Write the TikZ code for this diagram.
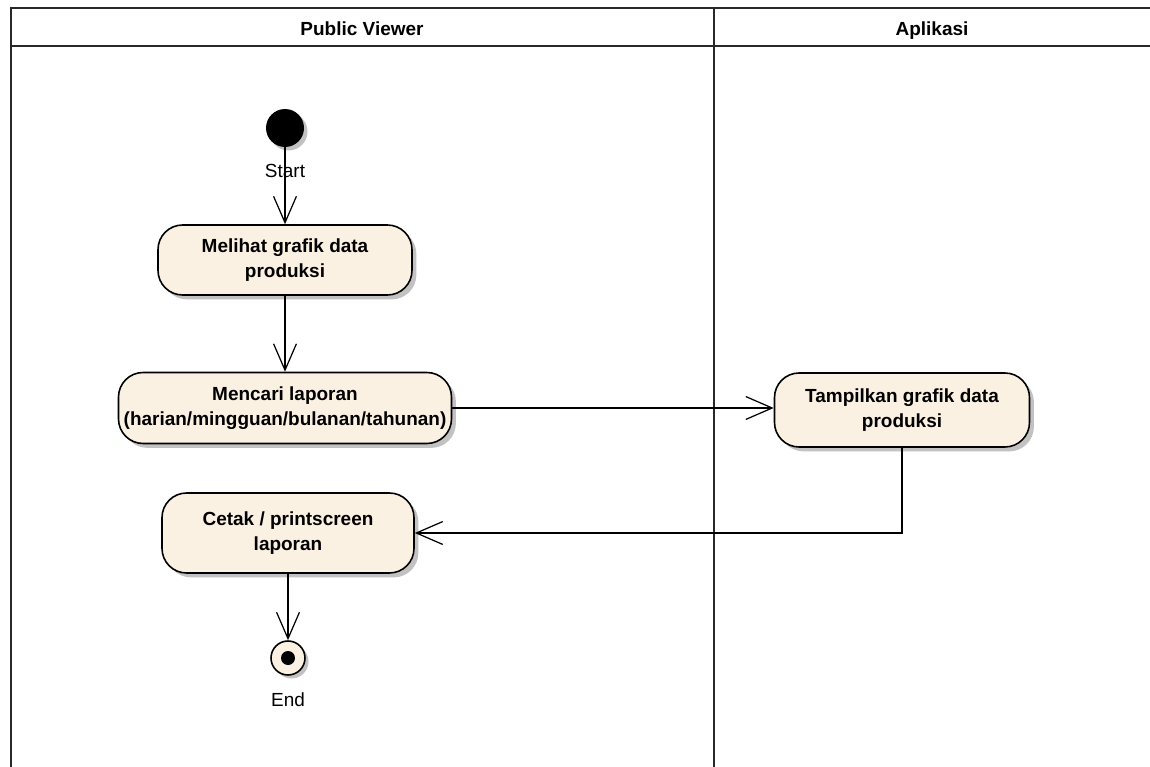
\documentclass[tikz,border=0pt]{standalone}
\usepackage{fontspec}
\setmainfont{Liberation Sans}
\usetikzlibrary{arrows.meta, shadows}

\definecolor{actfill}{RGB}{251,241,226}
\definecolor{lanegray}{RGB}{40,40,40}

\begin{document}
\begin{tikzpicture}[x=0.02cm, y=-0.02cm,
    font=\fontsize{10.8}{14}\selectfont,
    lane/.style={draw=lanegray, line width=1.3pt},
    lanehead/.style={anchor=base, font=\fontsize{10.8}{14}\selectfont\bfseries},
    act/.style={draw, line width=0.9pt, fill=actfill, rounded corners=14pt,
        align=center, inner sep=0pt, font=\fontsize{10.8}{14}\selectfont\bfseries,
        drop shadow={shadow xshift=2.5pt, shadow yshift=-2.5pt, fill=black!40, opacity=0.6}},
    flow/.style={line width=0.7pt, -{Straight Barb[length=15pt, width=13pt, line width=0.7pt]}}]
    \useasboundingbox (0,0) rectangle (1150,767);

    % Swimlanes
    \draw[lane] (1150,8) -- (11,8) -- (11,767);
    \draw[lane] (11,46) -- (1150,46);
    \draw[lane] (714,8) -- (714,767);
    \node[lanehead] (laneviewer) at (362,36) {Public Viewer};
    \node[lanehead] (laneapp) at (932,36) {Aplikasi};

    % Start
    \node[circle, fill=black, minimum size=38*0.02cm, inner sep=0pt,
        drop shadow={shadow xshift=2pt, shadow yshift=-2pt, fill=black!40, opacity=0.6}] (start) at (285,128) {};
    \node (startlbl) at (285,171) {Start};

    % Activities
    \node[act, minimum width=254*0.02cm, minimum height=70*0.02cm] (lihat) at (285,260) {Melihat grafik data\\produksi};
    \node[act, minimum width=333*0.02cm, minimum height=71*0.02cm] (cari) at (285,408) {Mencari laporan\\(harian/mingguan/bulanan/tahunan)};
    \node[act, minimum width=255*0.02cm, minimum height=74*0.02cm] (tampil) at (902,410) {Tampilkan grafik data\\produksi};
    \node[act, minimum width=252*0.02cm, minimum height=80*0.02cm] (cetak) at (288,533) {Cetak / printscreen\\laporan};

    % End
    \node[circle, draw, line width=0.9pt, fill=actfill, minimum size=34*0.02cm, inner sep=0pt,
        drop shadow={shadow xshift=2pt, shadow yshift=-2pt, fill=black!40, opacity=0.6}] (end) at (288,658) {};
    \fill (end.center) circle[radius=7];
    \node (endlbl) at (288,700) {End};

    % Flows
    \draw[flow] (start) -- (lihat);
    \draw[flow] (lihat) -- (cari);
    \draw[flow] (cari.east) -- (cari.east -| tampil.west);
    \draw[flow] (tampil.south) |- (cetak.east);
    \draw[flow] (cetak.south) -- (end.north);
\end{tikzpicture}
\end{document}
